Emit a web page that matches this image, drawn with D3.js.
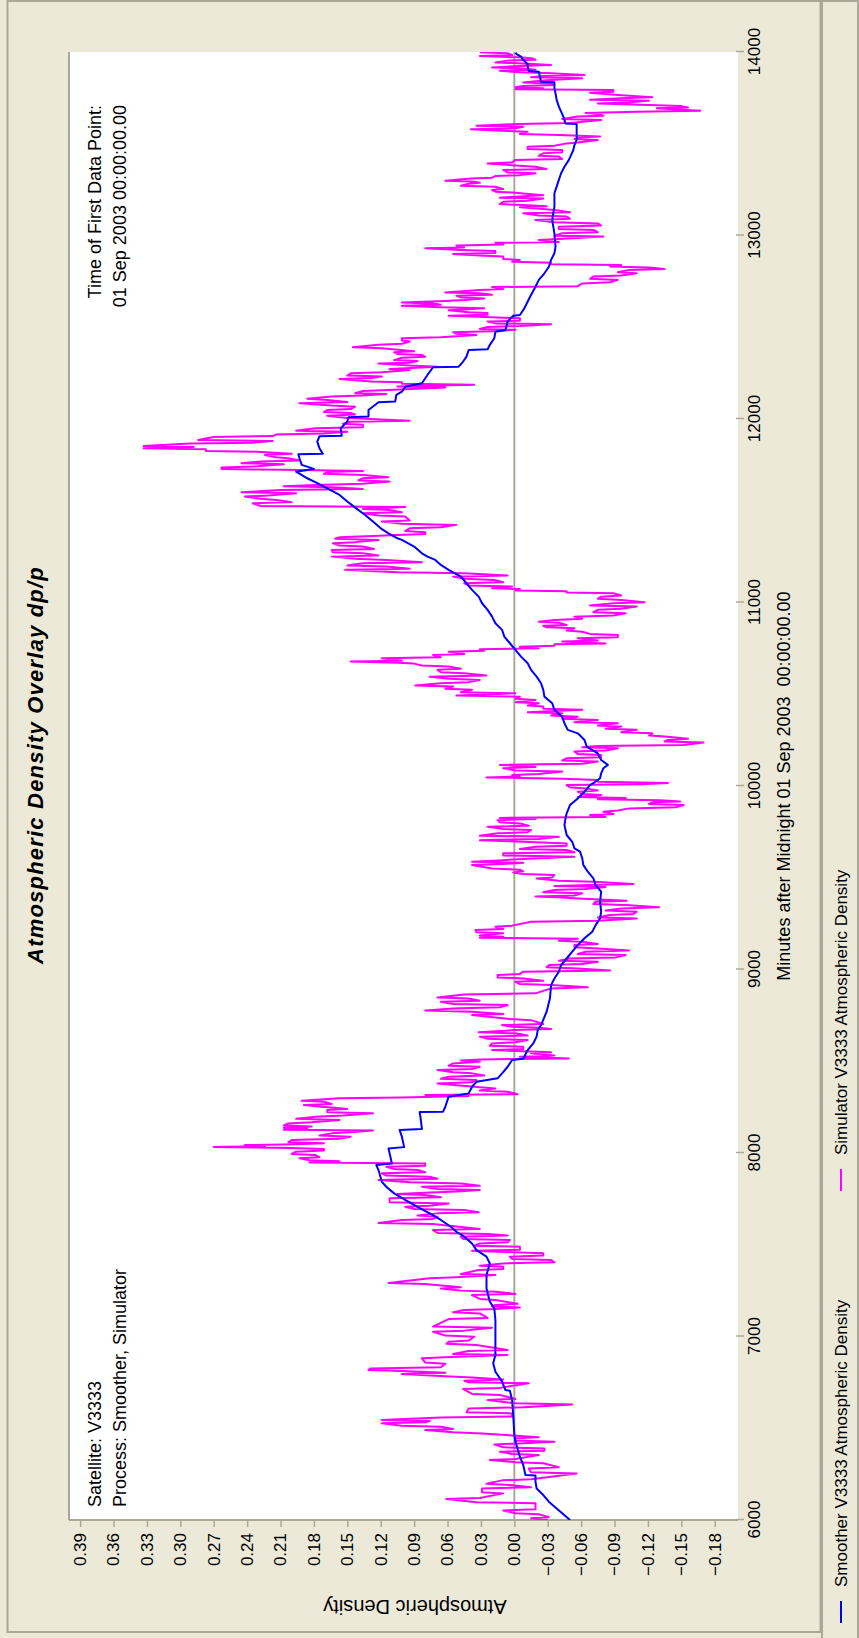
<!DOCTYPE html>
<html>
<head>
<meta charset="utf-8">
<script src="https://cdn.jsdelivr.net/npm/d3@7"></script>
<style>
  body { margin: 0; background: #ECE9D8; }
  svg { display: block; }
  text { font-family: "Liberation Sans", Arial, sans-serif; fill: #000; }
</style>
</head>
<body>
<svg id="chart" width="859" height="1638"></svg>
<script>
// ---- data -------------------------------------------------------------
const minuteTicks = [6000, 7000, 8000, 9000, 10000, 11000, 12000, 13000, 14000];
const densityTicks = [-0.18, -0.15, -0.12, -0.09, -0.06, -0.03, 0.00, 0.03, 0.06, 0.09,
                      0.12, 0.15, 0.18, 0.21, 0.24, 0.27, 0.30, 0.33, 0.36, 0.39];
const seriesNames = ["Smoother V3333 Atmospheric Density", "Simulator V3333 Atmospheric Density"];
const seriesColors = ["#0000FF", "#FF00FF"];
const chartTitle = "Atmospheric Density Overlay dp/p";
const xTitle = "Minutes after Midnight 01 Sep 2003  00:00:00.00";
const yTitle = "Atmospheric Density";
const infoLeft = ["Satellite: V3333", "Process: Smoother, Simulator"];
const infoRight = ["Time of First Data Point:", "01 Sep 2003 00:00:00.00"];

// smoother estimate [minute, dp/p]
const smoother = [
  [6000,-0.050],[6063,-0.038],[6100,-0.031],[6136,-0.026],[6172,-0.020],[6209,-0.019],[6242,-0.019],[6245,-0.010],
  [6300,-0.008],[6345,-0.005],[6427,-0.001],[6463,0.000],[6572,0.001],[6654,0.002],[6705,0.004],[6708,0.008],
  [6754,0.011],[6790,0.015],[6808,0.017],[6854,0.019],[6899,0.017],[7090,0.017],[7153,0.018],[7190,0.022],
  [7262,0.025],[7335,0.025],[7398,0.022],[7435,0.025],[7471,0.034],[7507,0.038],[7544,0.045],[7571,0.052],
  [7598,0.057],[7635,0.066],[7671,0.076],[7707,0.087],[7744,0.098],[7780,0.108],[7816,0.115],[7843,0.119],
  [7907,0.122],[7934,0.124],[7943,0.110],[7998,0.112],[8025,0.113],[8032,0.099],[8089,0.101],[8125,0.103],
  [8131,0.083],[8180,0.084],[8223,0.085],[8225,0.064],[8252,0.062],[8307,0.059],[8325,0.041],[8361,0.038],
  [8388,0.034],[8407,0.015],[8434,0.011],[8470,0.006],[8507,0.002],[8514,-0.008],[8561,-0.012],[8597,-0.017],
  [8634,-0.020],[8670,-0.021],[8697,-0.024],[8770,-0.029],[8843,-0.032],[8915,-0.033],[8951,-0.036],[8988,-0.040],
  [9024,-0.042],[9060,-0.047],[9097,-0.052],[9133,-0.057],[9170,-0.063],[9206,-0.070],[9242,-0.073],[9278,-0.077],
  [9315,-0.078],[9369,-0.077],[9424,-0.078],[9460,-0.073],[9497,-0.071],[9533,-0.066],[9569,-0.062],[9606,-0.061],
  [9642,-0.059],[9660,-0.054],[9696,-0.052],[9733,-0.047],[9787,-0.045],[9824,-0.046],[9851,-0.047],[9896,-0.050],
  [9932,-0.057],[9969,-0.063],[10005,-0.068],[10015,-0.071],[10042,-0.077],[10069,-0.078],[10097,-0.080],[10115,-0.084],
  [10142,-0.078],[10178,-0.075],[10215,-0.065],[10251,-0.063],[10287,-0.057],[10306,-0.048],[10342,-0.045],[10378,-0.043],
  [10415,-0.036],[10451,-0.034],[10487,-0.027],[10524,-0.026],[10560,-0.024],[10596,-0.020],[10633,-0.015],[10669,-0.012],
  [10705,-0.006],[10742,-0.001],[10778,0.004],[10814,0.009],[10851,0.011],[10887,0.017],[10923,0.020],[10960,0.024],
  [10996,0.029],[11032,0.032],[11069,0.038],[11105,0.043],[11141,0.048],[11178,0.059],[11205,0.066],[11232,0.071],
  [11250,0.078],[11268,0.083],[11305,0.090],[11341,0.101],[11350,0.105],[11377,0.113],[11404,0.120],[11441,0.127],
  [11477,0.134],[11513,0.142],[11550,0.150],[11586,0.157],[11622,0.168],[11650,0.177],[11677,0.186],[11713,0.196],
  [11728,0.180],[11750,0.191],[11786,0.193],[11808,0.194],[11811,0.172],[11840,0.175],[11877,0.177],[11906,0.175],
  [11909,0.155],[11949,0.156],[11986,0.150],[12009,0.149],[12013,0.131],[12049,0.131],[12091,0.122],[12095,0.107],
  [12131,0.106],[12149,0.101],[12176,0.098],[12195,0.083],[12240,0.078],[12282,0.073],[12285,0.050],[12313,0.046],
  [12340,0.043],[12376,0.041],[12380,0.024],[12404,0.022],[12440,0.018],[12476,0.017],[12485,0.008],[12531,0.006],
  [12563,0.001],[12567,-0.005],[12603,-0.009],[12640,-0.012],[12676,-0.015],[12721,-0.019],[12758,-0.022],[12794,-0.027],
  [12830,-0.031],[12867,-0.033],[12903,-0.036],[12939,-0.037],[13012,-0.036],[13085,-0.034],[13157,-0.036],[13230,-0.036],
  [13266,-0.038],[13303,-0.040],[13339,-0.042],[13375,-0.045],[13412,-0.049],[13439,-0.051],[13466,-0.053],[13493,-0.054],
  [13521,-0.056],[13608,-0.056],[13611,-0.046],[13648,-0.044],[13675,-0.042],[13702,-0.040],[13739,-0.038],[13775,-0.037],
  [13802,-0.036],[13835,-0.036],[13838,-0.024],[13866,-0.023],[13893,-0.022],[13897,-0.013],[13920,-0.012],[13935,-0.012],
  [13956,-0.008],[13975,-0.006],[13989,-0.002],[13996,-0.001]
];

// simulator output [minute, dp/p]
const simulator = [
  [6000,-0.030],[6009,-0.015],[6015,-0.031],[6031,-0.022],[6037,-0.001],[6052,0.010],[6058,-0.019],[6091,-0.019],
  [6097,0.034],[6114,0.061],[6120,0.031],[6145,0.010],[6151,0.029],[6172,0.029],[6178,-0.015],[6191,0.004],
  [6197,0.025],[6216,0.011],[6222,-0.015],[6254,-0.056],[6260,-0.015],[6281,-0.013],[6287,-0.040],[6309,-0.026],
  [6315,-0.001],[6327,0.022],[6333,-0.001],[6354,-0.022],[6360,0.002],[6372,0.013],[6378,-0.027],[6390,-0.027],
  [6396,0.010],[6412,0.018],[6418,-0.008],[6427,-0.036],[6433,-0.001],[6445,-0.001],[6451,-0.022],[6472,0.029],
  [6478,0.055],[6490,0.080],[6496,0.055],[6508,0.066],[6514,0.101],[6527,0.119],[6533,0.080],[6539,0.076],
  [6545,0.119],[6558,0.066],[6564,0.002],[6581,0.002],[6587,0.043],[6608,0.041],[6614,-0.008],[6630,-0.052],
  [6636,-0.001],[6654,0.024],[6660,-0.001],[6681,0.013],[6687,0.038],[6714,0.046],[6720,0.013],[6745,-0.013],
  [6751,0.041],[6759,0.045],[6765,0.010],[6777,0.038],[6783,0.062],[6796,0.101],[6802,0.062],[6812,0.101],
  [6818,0.131],[6826,0.129],[6832,0.066],[6852,0.062],[6858,0.080],[6881,0.083],[6887,0.062],[6899,0.006],
  [6905,0.055],[6921,0.041],[6927,0.006],[6954,0.034],[6960,0.061],[6972,0.059],[6978,0.041],[6999,0.036],
  [7005,0.062],[7026,0.073],[7032,0.045],[7048,0.020],[7054,0.073],[7095,0.059],[7101,0.024],[7126,0.031],
  [7132,0.055],[7144,0.045],[7150,0.017],[7158,-0.005],[7164,0.020],[7172,0.017],[7178,-0.003],[7199,0.017],
  [7205,0.031],[7226,0.038],[7232,-0.001],[7244,0.017],[7250,0.048],[7262,0.066],[7268,0.048],[7286,0.080],
  [7292,0.113],[7317,0.076],[7323,0.052],[7335,0.017],[7341,0.048],[7362,0.032],[7368,0.010],[7380,0.010],
  [7386,0.031],[7398,0.010],[7404,-0.036],[7417,-0.033],[7423,0.002],[7435,0.004],[7441,-0.026],[7453,-0.026],
  [7459,0.002],[7467,0.038],[7473,-0.005],[7489,-0.005],[7495,0.036],[7507,0.031],[7513,0.006],[7526,0.004],
  [7532,0.046],[7544,0.048],[7550,0.006],[7558,0.024],[7564,0.069],[7580,0.073],[7586,0.031],[7613,0.073],
  [7619,0.122],[7635,0.101],[7641,0.073],[7653,0.069],[7659,0.087],[7671,0.069],[7677,0.032],[7689,0.045],
  [7695,0.090],[7707,0.098],[7713,0.076],[7725,0.059],[7731,0.112],[7753,0.112],[7759,0.066],[7771,0.080],
  [7777,0.105],[7784,0.080],[7790,0.052],[7798,0.031],[7804,0.069],[7816,0.083],[7822,0.031],[7834,0.048],
  [7840,0.094],[7853,0.122],[7859,0.069],[7871,0.076],[7877,0.115],[7889,0.119],[7895,0.080],[7907,0.087],
  [7913,0.108],[7925,0.115],[7931,0.080],[7943,0.080],[7948,0.184],[7955,0.157],[7961,0.184],[7971,0.193],
  [7977,0.175],[7989,0.179],[7995,0.200],[8007,0.196],[8013,0.171],[8022,0.171],[8027,0.200],[8033,0.270],
  [8038,0.224],[8043,0.242],[8048,0.196],[8053,0.171],[8058,0.203],[8071,0.200],[8077,0.157],[8089,0.147],
  [8095,0.175],[8107,0.164],[8113,0.147],[8122,0.127],[8127,0.207],[8133,0.186],[8138,0.207],[8145,0.182],
  [8150,0.207],[8161,0.203],[8167,0.182],[8180,0.157],[8186,0.196],[8198,0.179],[8204,0.154],[8216,0.127],
  [8222,0.168],[8234,0.168],[8240,0.150],[8246,0.161],[8251,0.171],[8261,0.189],[8267,0.164],[8279,0.171],
  [8285,0.191],[8298,0.157],[8303,0.101],[8310,0.041],[8316,0.080],[8320,-0.003],[8334,0.006],[8340,0.031],
  [8352,0.017],[8358,0.031],[8379,0.069],[8385,0.038],[8398,0.034],[8404,0.066],[8416,0.059],[8422,0.027],
  [8434,0.038],[8440,0.055],[8452,0.069],[8458,0.038],[8470,0.031],[8476,0.059],[8488,0.055],[8494,0.038],
  [8499,0.031],[8504,0.048],[8510,0.031],[8515,-0.049],[8525,-0.005],[8531,-0.036],[8543,-0.015],[8549,-0.033],
  [8561,0.020],[8567,-0.008],[8579,-0.008],[8585,0.022],[8597,0.020],[8603,-0.001],[8616,-0.012],[8622,0.024],
  [8634,0.031],[8640,-0.012],[8652,-0.001],[8658,0.032],[8670,-0.001],[8676,-0.033],[8682,-0.022],[8688,0.002],
  [8697,0.011],[8703,-0.026],[8724,-0.015],[8730,0.004],[8752,0.038],[8758,0.010],[8770,0.038],[8776,0.080],
  [8788,0.055],[8794,0.013],[8806,0.006],[8812,0.055],[8824,0.066],[8830,0.031],[8842,0.041],[8848,0.069],
  [8864,0.045],[8870,-0.019],[8897,-0.033],[8903,-0.066],[8915,-0.033],[8921,-0.005],[8933,-0.001],[8939,-0.026],
  [8951,-0.008],[8957,0.015],[8970,0.015],[8976,-0.005],[8988,-0.008],[8994,-0.086],[9006,-0.057],[9012,-0.029],
  [9024,-0.031],[9030,-0.061],[9042,-0.075],[9048,-0.040],[9060,-0.050],[9066,-0.091],[9079,-0.100],[9085,-0.057],
  [9097,-0.064],[9103,-0.103],[9115,-0.075],[9121,-0.054],[9133,-0.054],[9139,-0.075],[9151,-0.061],[9157,-0.040],
  [9168,-0.057],[9173,0.031],[9179,0.010],[9185,0.031],[9197,0.010],[9203,0.034],[9215,0.035],[9221,0.010],
  [9233,0.017],[9239,0.002],[9260,-0.015],[9266,-0.075],[9278,-0.110],[9284,-0.075],[9297,-0.086],[9303,-0.107],
  [9315,-0.110],[9321,-0.082],[9333,-0.096],[9339,-0.130],[9351,-0.100],[9357,-0.071],[9369,-0.073],[9375,-0.101],
  [9387,-0.057],[9392,-0.043],[9398,-0.019],[9403,-0.054],[9415,-0.061],[9421,-0.026],[9433,-0.036],[9439,-0.064],
  [9450,-0.082],[9455,-0.036],[9461,-0.068],[9466,-0.107],[9478,-0.071],[9484,-0.040],[9496,-0.020],[9502,-0.034],
  [9515,-0.036],[9521,-0.008],[9529,0.001],[9535,-0.008],[9544,-0.005],[9550,0.020],[9569,0.038],[9575,0.010],
  [9582,-0.008],[9587,0.038],[9596,0.010],[9602,-0.008],[9615,-0.054],[9621,0.010],[9633,0.010],[9639,-0.054],
  [9651,-0.047],[9657,-0.005],[9669,-0.019],[9675,-0.047],[9687,-0.047],[9693,-0.019],[9705,0.031],[9711,-0.022],
  [9723,-0.040],[9729,0.031],[9742,0.015],[9748,-0.012],[9760,-0.015],[9766,0.010],[9778,0.024],[9784,-0.013],
  [9796,-0.005],[9802,0.013],[9814,0.015],[9820,-0.019],[9826,0.013],[9831,-0.082],[9842,-0.068],[9848,-0.089],
  [9860,-0.080],[9866,-0.093],[9878,-0.103],[9884,-0.145],[9896,-0.152],[9902,-0.121],[9911,-0.124],[9916,-0.149],
  [9923,-0.131],[9928,-0.075],[9935,-0.100],[9940,-0.057],[9951,-0.078],[9957,-0.061],[9969,-0.057],[9975,-0.075],
  [9987,-0.064],[9993,-0.050],[10005,-0.047],[10010,-0.114],[10017,-0.138],[10023,-0.075],[10033,-0.075],[10039,-0.043],
  [10047,0.025],[10052,-0.005],[10060,0.002],[10066,-0.022],[10079,-0.043],[10085,-0.001],[10097,0.010],[10103,-0.019],
  [10115,0.013],[10121,-0.061],[10133,-0.075],[10139,-0.043],[10151,-0.047],[10157,-0.078],[10169,-0.078],[10175,-0.057],
  [10188,-0.054],[10194,-0.082],[10206,-0.093],[10211,-0.061],[10218,-0.075],[10224,-0.152],[10237,-0.170],[10243,-0.135],
  [10251,-0.138],[10257,-0.156],[10269,-0.138],[10275,-0.121],[10287,-0.124],[10293,-0.096],[10306,-0.110],[10312,-0.082],
  [10324,-0.096],[10330,-0.075],[10342,-0.093],[10348,-0.054],[10360,-0.075],[10366,-0.043],[10378,-0.057],[10384,-0.033],
  [10396,-0.043],[10402,-0.012],[10415,-0.061],[10421,-0.026],[10433,-0.026],[10439,-0.012],[10451,-0.022],[10457,-0.001],
  [10469,-0.019],[10475,-0.001],[10487,-0.005],[10493,0.052],[10505,-0.001],[10511,0.048],[10524,0.038],[10530,0.062],
  [10542,0.055],[10548,0.089],[10560,0.066],[10566,0.041],[10578,0.031],[10584,0.059],[10596,0.076],[10602,0.025],
  [10614,0.045],[10620,0.066],[10633,0.069],[10639,0.048],[10651,0.059],[10657,0.083],[10667,0.090],[10672,0.105],
  [10678,0.147],[10683,0.101],[10696,0.119],[10702,0.066],[10714,0.073],[10720,0.045],[10732,0.059],[10737,0.027],
  [10745,0.031],[10750,-0.022],[10759,-0.005],[10764,-0.036],[10772,-0.036],[10777,-0.082],[10787,-0.043],[10793,-0.075],
  [10805,-0.057],[10811,-0.093],[10823,-0.093],[10829,-0.068],[10841,-0.061],[10847,-0.047],[10860,-0.054],[10865,-0.029],
  [10873,-0.026],[10878,-0.047],[10890,-0.040],[10895,-0.022],[10905,-0.036],[10911,-0.061],[10923,-0.054],[10929,-0.089],
  [10941,-0.100],[10947,-0.071],[10960,-0.075],[10966,-0.096],[10978,-0.110],[10984,-0.068],[10996,-0.089],[11002,-0.117],
  [11014,-0.096],[11020,-0.075],[11032,-0.078],[11038,-0.096],[11050,-0.089],[11055,-0.047],[11061,-0.047],[11066,-0.001],
  [11073,-0.005],[11078,0.020],[11087,0.002],[11093,0.041],[11105,0.045],[11111,0.010],[11123,0.018],[11129,0.045],
  [11141,0.055],[11147,0.006],[11159,0.045],[11165,0.105],[11178,0.152],[11184,0.094],[11196,0.115],[11202,0.150],
  [11214,0.136],[11220,0.083],[11232,0.115],[11238,0.143],[11250,0.164],[11256,0.122],[11268,0.136],[11274,0.163],
  [11286,0.164],[11292,0.126],[11305,0.136],[11311,0.157],[11323,0.163],[11329,0.143],[11341,0.122],[11347,0.161],
  [11356,0.157],[11361,0.133],[11368,0.105],[11373,0.080],[11383,0.080],[11389,0.098],[11404,0.094],[11410,0.066],
  [11423,0.052],[11429,0.101],[11441,0.119],[11447,0.094],[11468,0.098],[11474,0.122],[11486,0.136],[11492,0.101],
  [11504,0.112],[11510,0.136],[11521,0.098],[11526,0.228],[11541,0.235],[11547,0.200],[11559,0.214],[11565,0.228],
  [11577,0.242],[11583,0.221],[11595,0.196],[11601,0.245],[11613,0.210],[11619,0.136],[11628,0.164],[11633,0.207],
  [11642,0.171],[11647,0.136],[11659,0.112],[11665,0.140],[11677,0.136],[11683,0.113],[11695,0.136],[11701,0.171],
  [11711,0.168],[11716,0.136],[11723,0.207],[11728,0.263],[11736,0.263],[11741,0.235],[11753,0.207],[11759,0.245],
  [11768,0.228],[11774,0.193],[11786,0.203],[11792,0.214],[11804,0.224],[11810,0.200],[11821,0.231],[11826,0.277],
  [11835,0.277],[11840,0.333],[11848,0.288],[11853,0.333],[11866,0.291],[11871,0.235],[11880,0.217],[11885,0.284],
  [11902,0.270],[11907,0.217],[11916,0.214],[11921,0.171],[11931,0.150],[11936,0.196],[11949,0.179],[11955,0.136],
  [11968,0.136],[11974,0.154],[11985,0.147],[11990,0.094],[12000,0.129],[12006,0.150],[12018,0.168],[12024,0.143],
  [12033,0.147],[12038,0.171],[12049,0.168],[12054,0.147],[12067,0.143],[12073,0.164],[12086,0.193],[12092,0.150],
  [12104,0.168],[12110,0.186],[12122,0.164],[12128,0.136],[12136,0.115],[12141,0.143],[12153,0.136],[12159,0.108],
  [12171,0.062],[12177,0.105],[12187,0.036],[12192,0.101],[12200,0.101],[12205,0.129],[12218,0.157],[12224,0.129],
  [12231,0.119],[12237,0.150],[12249,0.147],[12255,0.119],[12267,0.094],[12273,0.112],[12285,0.069],[12291,0.094],
  [12302,0.122],[12307,0.094],[12316,0.087],[12321,0.108],[12334,0.101],[12339,0.080],[12349,0.083],[12354,0.105],
  [12364,0.108],[12369,0.090],[12385,0.119],[12391,0.145],[12404,0.122],[12410,0.101],[12422,0.094],[12428,0.101],
  [12440,0.101],[12446,0.066],[12458,0.034],[12464,0.052],[12473,0.055],[12478,0.020],[12486,-0.001],[12491,0.031],
  [12502,0.024],[12507,-0.005],[12516,-0.033],[12521,0.017],[12531,0.024],[12536,-0.005],[12549,-0.005],[12554,0.020],
  [12563,0.059],[12568,0.024],[12577,0.024],[12582,0.041],[12592,0.059],[12597,0.045],[12604,0.027],[12609,0.066],
  [12617,0.101],[12622,0.066],[12630,0.073],[12635,0.101],[12643,0.062],[12648,0.045],[12657,0.027],[12662,0.048],
  [12672,0.052],[12677,0.020],[12685,0.031],[12690,0.062],[12703,0.031],[12709,0.010],[12719,0.020],[12724,-0.057],
  [12739,-0.061],[12745,-0.086],[12758,-0.093],[12764,-0.068],[12776,-0.071],[12782,-0.096],[12794,-0.110],[12800,-0.093],
  [12812,-0.103],[12817,-0.135],[12826,-0.121],[12831,-0.086],[12839,-0.096],[12844,-0.033],[12852,-0.033],[12857,0.002],
  [12867,-0.005],[12872,0.010],[12885,0.010],[12890,0.027],[12899,0.055],[12904,0.017],[12916,0.017],[12921,0.048],
  [12930,0.080],[12935,0.045],[12946,0.052],[12951,0.010],[12960,0.017],[12965,-0.040],[12976,-0.022],[12981,-0.040],
  [12994,-0.080],[12999,-0.036],[13012,-0.043],[13018,-0.075],[13030,-0.071],[13036,-0.040],[13048,-0.040],[13054,-0.078],
  [13066,-0.075],[13072,-0.036],[13085,-0.019],[13091,-0.050],[13103,-0.047],[13109,-0.022],[13121,-0.008],[13127,-0.050],
  [13139,-0.036],[13145,-0.026],[13154,-0.005],[13159,-0.029],[13166,-0.008],[13171,0.013],[13184,0.010],[13190,-0.012],
  [13201,-0.026],[13206,0.013],[13215,-0.012],[13220,-0.026],[13234,0.002],[13239,0.017],[13248,0.020],[13253,0.010],
  [13266,0.017],[13271,0.048],[13282,0.041],[13287,0.031],[13294,0.038],[13299,0.062],[13310,0.039],[13315,0.020],
  [13324,0.017],[13329,-0.005],[13339,-0.019],[13344,0.006],[13357,0.010],[13362,-0.029],[13375,-0.019],[13380,-0.005],
  [13393,0.024],[13398,0.002],[13412,-0.001],[13417,-0.043],[13430,-0.040],[13435,-0.022],[13448,-0.026],[13453,-0.043],
  [13466,-0.043],[13471,-0.012],[13484,-0.012],[13489,-0.036],[13502,-0.047],[13507,-0.057],[13521,-0.075],[13526,-0.054],
  [13535,-0.061],[13540,-0.077],[13548,-0.040],[13553,-0.005],[13566,-0.012],[13571,0.013],[13579,0.039],[13584,-0.001],
  [13593,-0.008],[13598,0.034],[13608,-0.005],[13613,-0.050],[13630,-0.078],[13635,-0.043],[13648,-0.057],[13653,-0.080],
  [13662,-0.075],[13667,-0.064],[13675,-0.110],[13680,-0.167],[13693,-0.128],[13698,-0.156],[13706,-0.149],[13711,-0.121],
  [13720,-0.075],[13725,-0.103],[13735,-0.121],[13740,-0.068],[13748,-0.096],[13753,-0.124],[13766,-0.093],[13771,-0.082],
  [13778,-0.068],[13783,-0.089],[13793,-0.089],[13797,-0.001],[13803,-0.026],[13808,-0.001],[13815,-0.008],[13820,-0.036],
  [13829,-0.033],[13834,-0.008],[13841,-0.019],[13846,-0.029],[13857,-0.061],[13862,-0.015],[13869,-0.026],[13874,-0.063],
  [13884,-0.033],[13889,-0.005],[13898,0.013],[13903,-0.019],[13911,-0.005],[13916,0.020],[13924,-0.005],[13929,-0.033],
  [13938,-0.008],[13943,0.017],[13953,0.006],[13958,-0.019],[13966,-0.015],[13971,-0.005],[13978,0.031],[13983,0.002],
  [13993,0.006],[13998,0.031]
];

// ---- layout (chart is laid out landscape, then turned onto the portrait page) ----
const PAGE_W = 859, PAGE_H = 1638;
const plot = { left: 118, right: 1586, top: 69, bottom: 738 };
const frameGray = "#ACA899";
const FONT = '"Liberation Sans", Arial, sans-serif';

const svg = d3.select("#chart");
svg.append("rect").attr("width", PAGE_W).attr("height", PAGE_H).attr("fill", "#ECE9D8");

const g = svg.append("g").attr("transform", `translate(0,${PAGE_H}) rotate(-90)`);

// panels
g.append("rect").attr("x", 6).attr("y", 7.5).attr("width", 1631).attr("height", 813)
  .attr("fill", "none").attr("stroke", frameGray).attr("stroke-width", 2);
g.append("rect").attr("x", -2).attr("y", 822).attr("width", 1639).attr("height", 36)
  .attr("fill", "none").attr("stroke", frameGray).attr("stroke-width", 2);

// scales
const x = d3.scaleLinear().domain([6000, 14000]).range([plot.left, plot.right]);
const y = d3.scaleLinear().domain([-0.2, 0.4]).range([plot.bottom - 1, plot.top]);

// plot background
g.append("rect").attr("x", plot.left).attr("y", plot.top)
  .attr("width", plot.right - plot.left).attr("height", plot.bottom - plot.top).attr("fill", "#fff");

// axes
const yAxis = d3.axisLeft(y).tickValues(densityTicks).tickSize(7).tickPadding(6)
  .tickFormat(d3.format(".2f"));
const yg = g.append("g").attr("transform", `translate(${plot.left},0)`).call(yAxis);
const xAxis = d3.axisBottom(x).tickValues(minuteTicks).tickSize(6).tickPadding(6)
  .tickFormat(d3.format("d"));
const xg = g.append("g").attr("transform", `translate(0,${plot.bottom - 2})`).call(xAxis);
[yg, xg].forEach(a => {
  a.select(".domain").remove();
  a.selectAll(".tick line").attr("stroke", frameGray).attr("stroke-width", 1.5);
  a.selectAll(".tick text").attr("font-size", 17).attr("font-family", FONT).attr("fill", "#000");
});
xg.selectAll(".tick line").attr("y1", 0).attr("y2", 8);

// sunken edges of the plot area
g.append("line").attr("x1", plot.left).attr("x2", plot.right).attr("y1", plot.top).attr("y2", plot.top)
  .attr("stroke", frameGray).attr("stroke-width", 2);
g.append("line").attr("x1", plot.left).attr("x2", plot.left).attr("y1", plot.top).attr("y2", plot.bottom)
  .attr("stroke", frameGray).attr("stroke-width", 2);

// zero reference
g.append("line").attr("x1", plot.left).attr("x2", plot.right).attr("y1", y(0)).attr("y2", y(0))
  .attr("stroke", frameGray).attr("stroke-width", 2);

// series
const line = d3.line().x(d => x(d[0])).y(d => y(d[1]));
g.append("clipPath").attr("id", "plotClip").append("rect")
  .attr("x", plot.left).attr("y", plot.top).attr("width", plot.right - plot.left).attr("height", plot.bottom - plot.top);
const series = g.append("g").attr("clip-path", "url(#plotClip)");
series.append("path").datum(simulator).attr("d", line).attr("fill", "none")
  .attr("stroke", seriesColors[1]).attr("stroke-width", 2).attr("stroke-linejoin", "round");
series.append("path").datum(smoother).attr("d", line).attr("fill", "none")
  .attr("stroke", seriesColors[0]).attr("stroke-width", 2).attr("stroke-linejoin", "round");

// titles
g.append("text").attr("x", 873).attr("y", 42.5).attr("text-anchor", "middle")
  .attr("font-size", 22).attr("font-weight", "bold").attr("font-style", "italic")
  .attr("letter-spacing", 1.2).text(chartTitle);
g.append("text").attr("x", (plot.left + plot.right) / 2).attr("y", 790).attr("text-anchor", "middle")
  .attr("font-size", 18).style("white-space", "pre").text(xTitle);
g.append("text").attr("transform", `translate(38,415) rotate(-90)`).attr("text-anchor", "middle")
  .attr("font-size", 20).text(yTitle);

// annotation blocks inside the plot
infoLeft.forEach((t, i) => g.append("text").attr("x", 131).attr("y", 101 + i * 25)
  .attr("font-size", 18).text(t));
infoRight.forEach((t, i) => g.append("text").attr("x", 1533).attr("y", 101 + i * 25)
  .attr("text-anchor", "end").attr("font-size", 18).text(t));

// legend
const legendItems = [
  { name: seriesNames[0], color: seriesColors[0], x0: 15 },
  { name: seriesNames[1], color: seriesColors[1], x0: 447 }
];
legendItems.forEach(it => {
  g.append("line").attr("x1", it.x0).attr("x2", it.x0 + 22).attr("y1", 841).attr("y2", 841)
    .attr("stroke", it.color).attr("stroke-width", 2);
  g.append("text").attr("x", it.x0 + 36).attr("y", 847).attr("font-size", 17).text(it.name);
});
</script>
</body>
</html>
